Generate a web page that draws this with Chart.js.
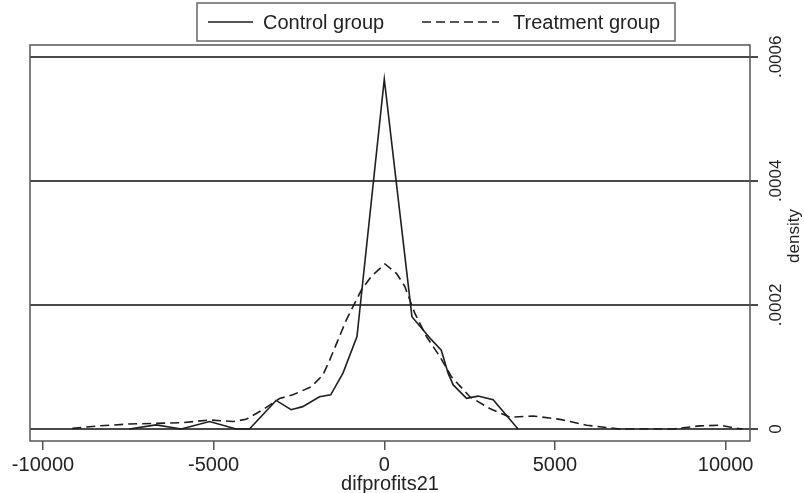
<!DOCTYPE html>
<html>
<head>
<meta charset="utf-8">
<script src="https://cdn.jsdelivr.net/npm/chart.js@4.4.1/dist/chart.umd.min.js"></script>
<style>
  html, body { margin: 0; padding: 0; background: #ffffff; }
  #c { display: block; }
</style>
</head>
<body>
<canvas id="c" width="804" height="493"></canvas>
<script>
// ---- data ----
const seriesNames = ['Control group', 'Treatment group'];

const controlX = [-7470, -6690, -5950, -5120, -4340, -3950, -3170, -2730, -2390, -1900, -1570, -1210, -800, 0, 810, 1380, 1670, 1870, 2020, 2410, 2750, 3190, 3920];
const controlY = [0, 0.0000065, 0, 0.000012, 0, 0, 0.000046, 0.000031, 0.000036, 0.000052, 0.000055, 0.00009, 0.000149, 0.000564, 0.000181, 0.000144, 0.000127, 0.00009, 0.000071, 0.0000495, 0.000053, 0.000047, 0];

const treatX = [-9140, -8350, -7470, -6690, -5950, -5120, -4440, -4050, -3560, -3070, -2680, -2140, -1800, -1600, -1110, -670, -380, 20, 355, 600, 890, 1235, 1625, 1970, 2505, 3090, 3680, 4350, 5150, 5930, 6900, 8460, 9250, 9840, 10330, 10490];
const treatY = [0.000001, 0.000005, 0.000008, 0.000009, 0.00001, 0.0000145, 0.000012, 0.0000155, 0.000031, 0.000049, 0.000055, 0.000068, 0.000087, 0.000111, 0.000176, 0.000224, 0.000246, 0.000266, 0.000251, 0.00023, 0.000187, 0.000149, 0.000117, 0.000084, 0.000052, 0.000033, 0.000019, 0.000021, 0.0000155, 0.000006, 0, 0, 0.000005, 0.000006, 0.000001, 0];

const xTicks = [-10000, -5000, 0, 5000, 10000];
const xTickLabels = ['-10000', '-5000', '0', '5000', '10000'];
const yTicks = [0, 0.0002, 0.0004, 0.0006];
const yTickLabels = ['0', '.0002', '.0004', '.0006'];
const xTitle = 'difprofits21';
const yTitle = 'density';

// ---- helpers ----
const toPoints = (xs, ys) => xs.map((x, i) => ({ x: x, y: ys[i] }));
const FONT = '"Liberation Sans", Arial, sans-serif';
const LINE = '#1e1e1e';
const AXIS = '#555555';

const framePlugin = {
  id: 'frame',
  beforeDatasetsDraw(chart) {
    const { ctx, chartArea: a } = chart;
    ctx.save();
    ctx.strokeStyle = AXIS;
    ctx.lineWidth = 1.5;
    ctx.strokeRect(a.left, a.top, a.right - a.left, a.bottom - a.top);
    ctx.restore();
  },
  afterDraw(chart) {
    const { ctx } = chart;
    ctx.save();
    // y title, rotated counter-clockwise
    ctx.fillStyle = '#222';
    ctx.font = '17px ' + FONT;
    ctx.translate(794, 236);
    ctx.rotate(-Math.PI / 2);
    ctx.textAlign = 'center';
    ctx.textBaseline = 'middle';
    ctx.fillText(yTitle, 0, 0);
    ctx.restore();

    // legend box
    ctx.save();
    ctx.strokeStyle = '#666';
    ctx.lineWidth = 1.5;
    ctx.strokeRect(197, 3, 478, 38);
    const ds = chart.data.datasets;
    const ly = 22;
    const items = [
      { x0: 208, x1: 253, tx: 263, d: ds[0] },
      { x0: 422, x1: 499, tx: 513, d: ds[1] }
    ];
    ctx.font = '20px ' + FONT;
    ctx.textBaseline = 'middle';
    ctx.textAlign = 'left';
    items.forEach(it => {
      ctx.strokeStyle = it.d.borderColor;
      ctx.lineWidth = it.d.borderWidth;
      ctx.setLineDash(it.d.borderDash || []);
      ctx.beginPath();
      ctx.moveTo(it.x0, ly);
      ctx.lineTo(it.x1, ly);
      ctx.stroke();
      ctx.setLineDash([]);
      ctx.fillStyle = '#222';
      ctx.fillText(it.d.label, it.tx, ly + 1);
    });
    ctx.restore();
  }
};

new Chart(document.getElementById('c'), {
  type: 'line',
  data: {
    datasets: [
      {
        label: seriesNames[0],
        data: toPoints(controlX, controlY),
        borderColor: LINE,
        borderWidth: 1.6,
        pointRadius: 0,
        tension: 0,
        fill: false
      },
      {
        label: seriesNames[1],
        data: toPoints(treatX, treatY),
        borderColor: LINE,
        borderWidth: 1.6,
        borderDash: [9, 5],
        pointRadius: 0,
        tension: 0,
        fill: false
      }
    ]
  },
  options: {
    responsive: false,
    animation: false,
    devicePixelRatio: 1,
    layout: { padding: { left: 30, top: 45, right: 0, bottom: 0 } },
    plugins: { legend: { display: false }, tooltip: { enabled: false } },
    scales: {
      x: {
        type: 'linear',
        position: 'bottom',
        min: -10381,
        max: 10716,
        afterBuildTicks: s => { s.ticks = xTicks.map(v => ({ value: v })); },
        afterFit: s => { s.height = 52; },
        grid: { display: true, drawOnChartArea: false, drawTicks: true, tickLength: 9, color: AXIS, lineWidth: 1.5 },
        border: { display: false },
        ticks: {
          font: { family: FONT, size: 20 },
          color: '#222',
          padding: 3,
          maxRotation: 0,
          minRotation: 0,
          autoSkip: false,
          callback: v => xTickLabels[xTicks.indexOf(v)]
        },
        title: {
          display: true,
          text: xTitle,
          font: { family: FONT, size: 20, lineHeight: 1 },
          color: '#222',
          padding: { top: 0, bottom: -1 }
        }
      },
      y: {
        type: 'linear',
        position: 'right',
        min: -0.0000194,
        max: 0.000619,
        afterBuildTicks: s => { s.ticks = yTicks.map(v => ({ value: v })); },
        afterFit: s => { s.width = 54; },
        grid: { display: true, drawOnChartArea: true, drawTicks: true, tickLength: 8, color: '#4a4a4a', lineWidth: 2 },
        border: { display: false },
        ticks: {
          font: { family: FONT, size: 17 },
          color: '#222',
          minRotation: 90,
          maxRotation: 90,
          crossAlign: 'center',
          padding: -3,
          autoSkip: false,
          callback: v => yTickLabels[yTicks.indexOf(v)]
        },
        title: { display: false }
      }
    }
  },
  plugins: [framePlugin]
});
</script>
</body>
</html>
